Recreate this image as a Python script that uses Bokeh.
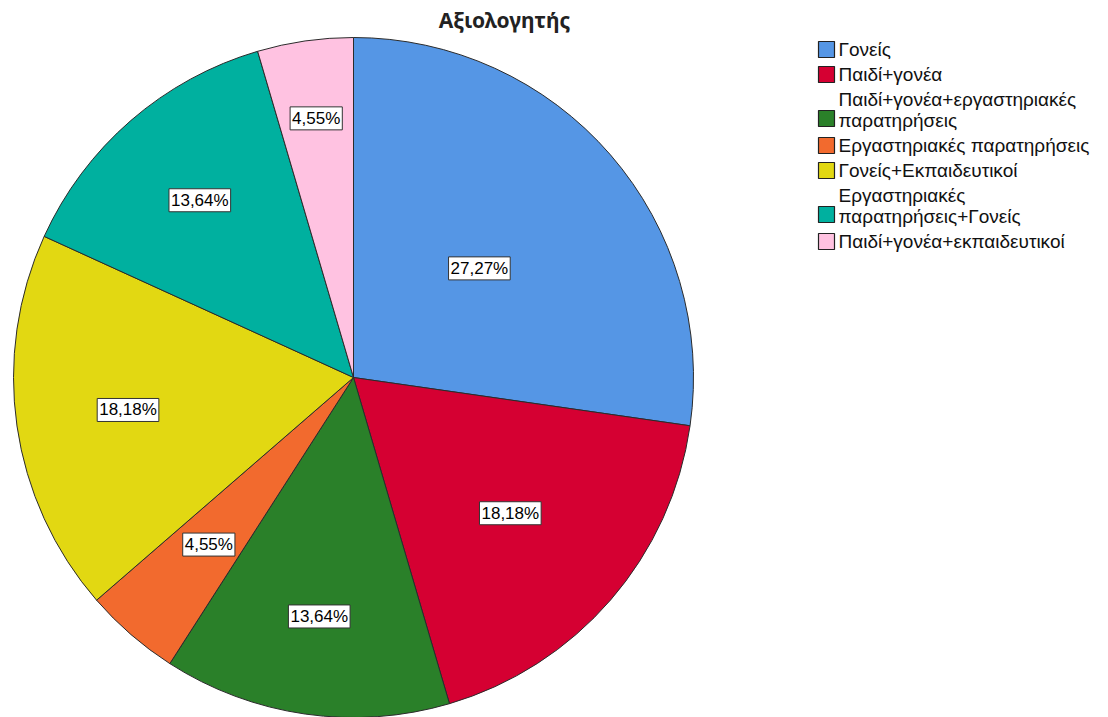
import math
import textwrap

from bokeh.models import ColumnDataSource, Range1d
from bokeh.plotting import figure
from bokeh.core.properties import value
from bokeh.embed import file_html
from bokeh.resources import INLINE

# Evaluator categories and their share of responses (%)
categories = [
    "Γονείς",
    "Παιδί+γονέα",
    "Παιδί+γονέα+εργαστηριακές παρατηρήσεις",
    "Εργαστηριακές παρατηρήσεις",
    "Γονείς+Εκπαιδευτικοί",
    "Εργαστηριακές παρατηρήσεις+Γονείς",
    "Παιδί+γονέα+εκπαιδευτικοί",
]
percentages = [27.27, 18.18, 13.64, 4.55, 18.18, 13.64, 4.55]
colors = ["#5596E5", "#D50032", "#2A8029", "#F26A2E", "#E2D812", "#00B09F", "#FFC2E1"]

# Radial placement of each value label, as a fraction of the pie radius
label_radius = [0.49, 0.61, 0.71, 0.65, 0.67, 0.69, 0.77]

W, H = 1108, 717
CX, CY, R = 353, H - 377, 340

p = figure(width=W, height=H, x_range=Range1d(0, W), y_range=Range1d(0, H),
           output_backend="svg", toolbar_location=None, min_border=0,
           x_axis_location=None, y_axis_location=None)
p.grid.visible = False
p.outline_line_color = None
p.background_fill_color = "white"
p.border_fill_color = "white"

# Wedges, clockwise from twelve o'clock
total = sum(percentages)
starts, ends, lx, ly, texts = [], [], [], [], []
cum = 0.0
for pct, f in zip(percentages, label_radius):
    a0 = math.pi / 2 - 2 * math.pi * cum / total
    cum += pct
    a1 = math.pi / 2 - 2 * math.pi * cum / total
    starts.append(a0)
    ends.append(a1)
    mid = (a0 + a1) / 2
    lx.append(CX + f * R * math.cos(mid))
    ly.append(CY + f * R * math.sin(mid))
    texts.append(f"{pct:.2f}%".replace(".", ","))

src = ColumnDataSource(dict(start=starts, end=ends, color=colors,
                            lx=lx, ly=ly, text=texts))
p.wedge(x=CX, y=CY, radius=R, start_angle="start", end_angle="end",
        direction="clock", fill_color="color", line_color="#2b2b2b",
        line_width=1, source=src)

# Boxed value labels
p.text(x="lx", y="ly", text="text", source=src,
       text_align="center", text_baseline="middle",
       text_font=value("Liberation Sans"), text_font_size="17px",
       text_color="black", background_fill_color="white",
       border_line_color="#333333", border_line_width=1, padding=2)

# Title
p.text(x=[504], y=[H - 19], text=["Αξιολογητής"], text_align="center",
       text_baseline="middle", text_font=value("Noto Sans"),
       text_font_size="21px", text_font_style="bold", text_color="#222222")

# Legend drawn as swatches and wrapped text lines
line_h, gap = 21, 4
y_text = 49
sw_y, tx, tl = [], [], []
for cat in categories:
    lines = textwrap.wrap(cat, width=26)
    for i, ln in enumerate(lines):
        tx.append(ln)
        tl.append(H - (y_text + i * line_h))
    last = y_text + (len(lines) - 1) * line_h
    sw_y.append(H - (last - (0 if len(lines) == 1 else 2)))
    y_text += len(lines) * line_h + gap

p.rect(x=826, y=sw_y, width=16, height=16, fill_color=colors,
       line_color="#222222", line_width=1.2)
p.text(x=838, y=tl, text=tx, text_align="left", text_baseline="middle",
       text_font=value("Liberation Sans"), text_font_size="19px",
       text_color="#111111")

open("out.html", "w").write(file_html(p, INLINE))
